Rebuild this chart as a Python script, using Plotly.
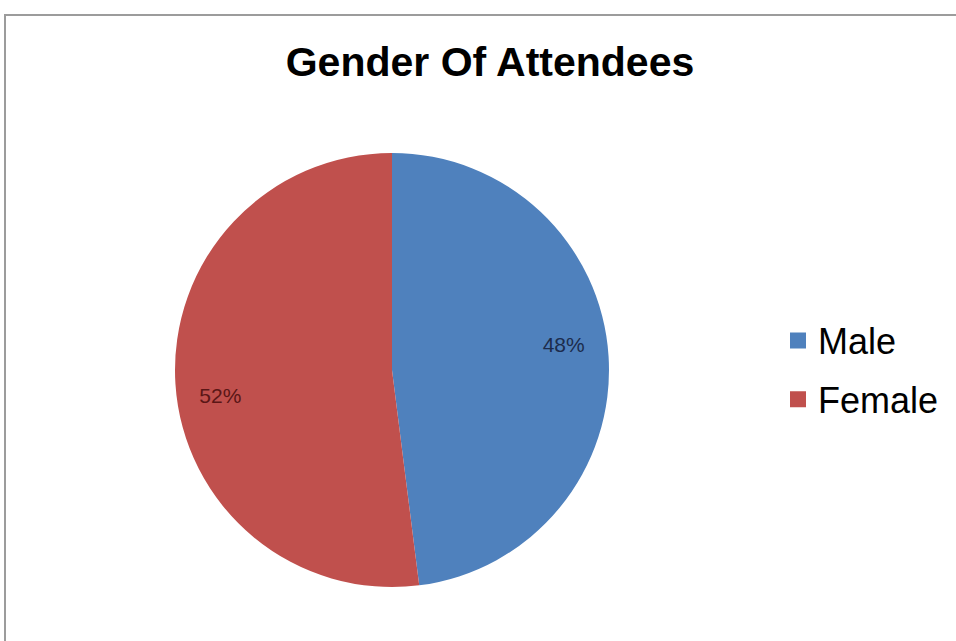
import plotly.graph_objects as go

# ---- data ----
categories = ["Male", "Female"]
shares = [48, 52]
slice_colors = ["#4F81BD", "#C0504D"]
label_colors = ["#1c2c4c", "#5a1616"]
title_text = "Gender Of Attendees"

W, H = 956, 641
cx, cy, r = 392, 370, 217
pie_domain = dict(x=[(cx - r) / W, (cx + r) / W],
                  y=[(H - cy - r) / H, (H - cy + r) / H])

fig = go.Figure()
# slices
fig.add_trace(go.Pie(
    labels=categories,
    values=shares,
    sort=False,
    direction="clockwise",
    rotation=0,
    marker=dict(colors=slice_colors, line=dict(width=0)),
    textinfo="none",
    showlegend=False,
    hoverinfo="label+percent",
    domain=pie_domain,
))
# percentage labels, placed in an outer ring of the same pie
fig.add_trace(go.Pie(
    labels=categories,
    values=shares,
    sort=False,
    direction="clockwise",
    rotation=-5,
    hole=0.6,
    marker=dict(colors=["rgba(0,0,0,0)"] * len(categories), line=dict(width=0)),
    texttemplate="%{percent:.0%}",
    textposition="inside",
    insidetextorientation="horizontal",
    textfont=dict(family="Liberation Sans, Arial", size=21, color=label_colors),
    showlegend=False,
    hoverinfo="skip",
    domain=pie_domain,
))

# legend entries (one per category)
for name, col in zip(categories, slice_colors):
    fig.add_trace(go.Scatter(
        x=[None], y=[None], mode="markers", name=name,
        legendgroup=name,
        marker=dict(symbol="square", size=16, color=col),
        hoverinfo="skip",
    ))

fig.update_layout(
    width=W, height=H,
    margin=dict(l=0, r=0, t=0, b=0),
    paper_bgcolor="white",
    plot_bgcolor="white",
    xaxis=dict(visible=False),
    yaxis=dict(visible=False),
    title=dict(text="<b>" + title_text + "</b>",
               font=dict(family="Liberation Sans, Arial", size=41, color="black"),
               x=490 / W, xanchor="center",
               yref="container", y=1 - 62 / H, yanchor="middle"),
    legend=dict(x=778 / W, xanchor="left", y=1 - 370 / H, yanchor="middle",
                font=dict(family="Liberation Sans, Arial", size=36, color="black"),
                tracegroupgap=9, itemwidth=30,
                bgcolor="rgba(0,0,0,0)"),
    shapes=[dict(type="rect", xref="paper", yref="paper",
                 x0=5 / W, x1=1.02, y0=-0.02, y1=1 - 15 / H,
                 line=dict(color="#9c9c9c", width=2), fillcolor="rgba(0,0,0,0)",
                 layer="below")],
)

fig.write_html("out.html",
               config={"displayModeBar": False},
               post_script="document.body.style.margin='0';document.body.style.padding='0';")
